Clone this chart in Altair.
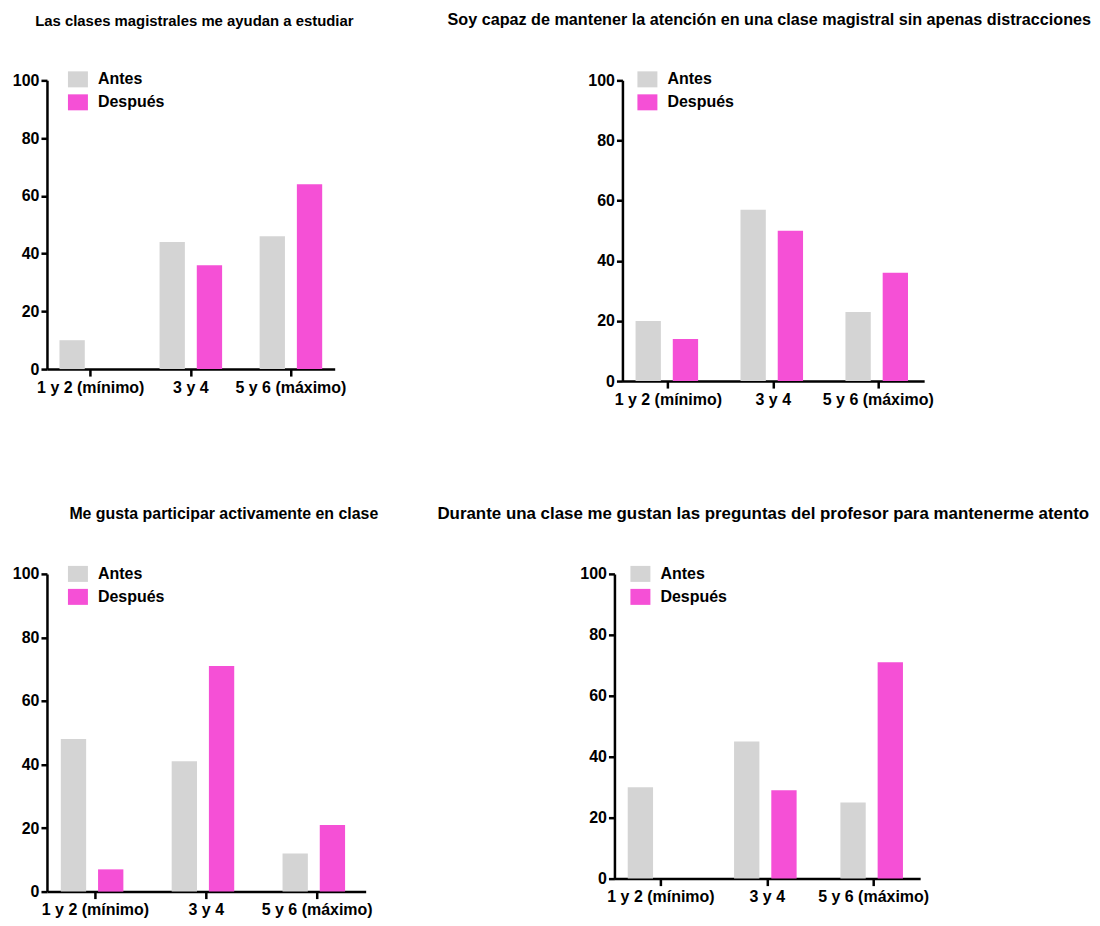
import altair as alt
import pandas as pd

categories = ["1 y 2 (mínimo)", "3 y 4", "5 y 6 (máximo)"]
series = ["Antes", "Después"]
titles = [
    "Las clases magistrales me ayudan a estudiar",
    "Soy capaz de mantener la atención en una clase magistral sin apenas distracciones",
    "Me gusta participar activamente en clase",
    "Durante una clase me gustan las preguntas del profesor para mantenerme atento",
]
antes = [[10, 44, 46], [20, 57, 23], [48, 41, 12], [30, 45, 25]]
despues = [[0, 36, 64], [14, 50, 36], [7, 71, 21], [0, 29, 71]]
y_ticks = [0, 20, 40, 60, 80, 100]
colors = ["#d4d4d4", "#f550d6"]
FONT = "Liberation Sans"

sizes = [(288, 289), (302, 301), (319, 318), (306, 305)]
legend_pos = [(23, -9), (17, -9), (23, -8), (18, -8)]
title_sizes = [14.9, 16.2, 15.9, 16.9]
title_offsets = [43, 43, 44, 43.5]
title_dx = [3.5, -4, 17.5, -4]
y_extent = [39, 35, 39, 35]


def panel(i):
    rows = []
    for c, a, d in zip(categories, antes[i], despues[i]):
        rows.append({"cat": c, "serie": "Antes", "val": a})
        rows.append({"cat": c, "serie": "Después", "val": d})
    df = pd.DataFrame(rows)
    w, h = sizes[i]
    lx, ly = legend_pos[i]
    return alt.Chart(
        df,
        title=alt.Title(
            titles[i],
            offset=title_offsets[i],
            fontSize=title_sizes[i],
            dx=title_dx[i],
        ),
    ).mark_bar().encode(
        x=alt.X(
            "cat:N",
            sort=categories,
            scale=alt.Scale(paddingInner=0.375, paddingOuter=0.125),
            axis=alt.Axis(title=None, labelAngle=0, tickSize=7, labelPadding=3),
        ),
        xOffset=alt.XOffset("serie:N", sort=series, scale=alt.Scale(paddingInner=0.32)),
        y=alt.Y(
            "val:Q",
            scale=alt.Scale(domain=[0, 100]),
            axis=alt.Axis(
                values=y_ticks,
                title=None,
                grid=False,
                tickSize=6,
                labelPadding=2,
                minExtent=y_extent[i],
            ),
        ),
        color=alt.Color(
            "serie:N",
            sort=series,
            scale=alt.Scale(domain=series, range=colors),
            legend=alt.Legend(
                title=None,
                orient="none",
                legendX=lx,
                legendY=ly,
                symbolType="M-1.25,-1H1.25V1H-1.25Z",
                symbolSize=256,
                symbolStrokeWidth=0,
                symbolOpacity=1,
                labelFont=FONT,
                labelFontSize=16,
                labelFontWeight="bold",
                labelColor="black",
                labelOffset=12,
                rowPadding=7,
            ),
        ),
    ).properties(width=w, height=h)


top = alt.concat(panel(0), panel(1), align="none", spacing=93).resolve_scale(color="independent")
bottom = alt.concat(panel(2), panel(3), align="none", spacing=58).resolve_scale(color="independent")

chart = alt.concat(top, bottom, columns=1, align="none", spacing=97).resolve_scale(
    color="independent"
).properties(
    padding={"left": 0, "top": 3, "right": 0, "bottom": 0}
).configure_view(stroke=None).configure_axis(
    domainColor="black",
    domainWidth=2.5,
    tickColor="black",
    tickWidth=2.5,
    labelFont=FONT,
    labelFontSize=16,
    labelFontWeight="bold",
    labelColor="black",
).configure_title(
    font=FONT, fontWeight="bold", color="black", anchor="middle"
)

chart.save("out.html", embed_options={"renderer": "svg", "actions": False})
